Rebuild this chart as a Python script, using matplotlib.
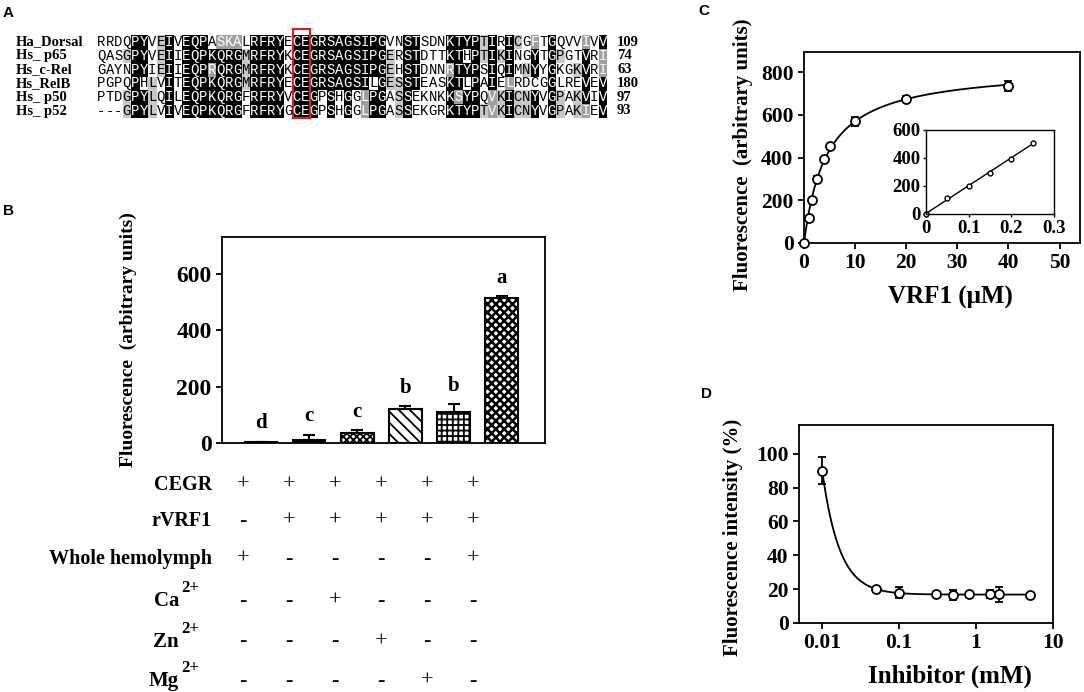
import numpy as np
import matplotlib.pyplot as plt
from matplotlib.patches import Rectangle
from matplotlib.ticker import NullLocator
from collections import Counter

plt.rcParams['font.family'] = ['Liberation Serif', 'DejaVu Serif']
plt.rcParams['font.weight'] = 'bold'
plt.rcParams['axes.linewidth'] = 1.3
plt.rcParams['hatch.linewidth'] = 1.3

W, H = 1084, 692

# ---- panel A: alignment
seq_names = ['Ha_Dorsal', 'Hs_ p65', 'Hs_c-Rel', 'Hs_RelB', 'Hs_ p50', 'Hs_ p52']
seqs = ['RRDQPYVEIVEQPASKALRFRYECEGRSAGSIPGVNSTSDNKTYPTIRICGFTGQVVIVV',
        'QASGPYVEIIEQPKQRGMRFRYKCEGRSAGSIPGERSTDTTKTHPTIKINGYTGPGTVRI',
        'GAYNPYIEIIEQPRQRGMRFRYKCEGRSAGSIPGEHSTDNNRTYPSIQIMNYYGKGKVRI',
        'PGPQPHLVITEQPKQRGMRFRYECEGRSAGSILGESSTEASKTLPAIELRDCGGLREVEV',
        'PTDGPYLQILEQPKQRGFRFRYVCEGPSHGGLPGASSEKNKKSYPQVKICNYVGPAKVIV',
        '---GPYLVIVEQPKQRGFRFRYGCEGPSHGGLPGASSEKGRKTYPTVKICNYVGPAKIEV']
seq_ends = [109, 74, 63, 180, 97, 93]
box_cols = (23, 24)

# ---- panel B
bar_vals = [5, 10, 35, 120, 110, 515]
bar_err = [0, 20, 10, 10, 28, 5]
bar_letters = ['d', 'c', 'c', 'b', 'b', 'a']
bar_hatch = [None, None, 'xxxxx', '\\\\\\', '+++', 'xxxx']
bar_face = ['black', 'black', 'white', 'white', 'white', 'white']
cond_labels = ['CEGR', 'rVRF1', 'Whole hemolymph', 'Ca', 'Zn', 'Mg']
cond_sup = ['', '', '', '2+', '2+', '2+']
cond_marks = ['++++++', '-+++++', '+----+', '--+---', '---+--', '----+-']

# ---- panel C
c_x = [0, 1, 1.5, 2.5, 4, 5, 10, 20, 40]
c_y = [0, 115, 200, 300, 395, 455, 570, 675, 735]
c_err = [0, 5, 10, 15, 5, 5, 20, 15, 25]
ins_x = [0, 0.05, 0.1, 0.15, 0.2, 0.25]
ins_y = [0, 115, 200, 295, 395, 510]

# ---- panel D
d_x = [0.01, 0.05, 0.1, 0.3, 0.5, 0.8, 1.5, 2, 5]
d_y = [90, 20, 18, 17, 16.5, 17, 17, 17, 16.5]
d_err = [8, 1.5, 3.5, 1, 3, 0.5, 2.5, 4.5, 1]

fig = plt.figure(figsize=(W / 100, H / 100), dpi=100)

# overlay axes in pixel coordinates
ov = fig.add_axes([0, 0, 1, 1])
ov.set_xlim(0, W)
ov.set_ylim(H, 0)
ov.axis('off')

sans = ['Liberation Sans', 'DejaVu Sans']
for lab, (lx, ly) in zip('ABCD', [(8, 13), (8, 211), (704, 11), (706, 394)]):
    ov.text(lx, ly, lab, family=sans, fontsize=11, weight='bold', ha='center', va='center')

groups = ['ILVM', 'FYW', 'KRH', 'DE', 'STNQ', 'AG', 'P', 'C']
def grp(c):
    for g in groups:
        if c in g:
            return g
    return c

x0, cw, y0, rh = 97, 8.5, 42, 13.8
for j in range(len(seqs[0])):
    col = [s[j] for s in seqs]
    m, n = Counter([c for c in col if c != '-']).most_common(1)[0]
    for i, c in enumerate(col):
        if c == '-':
            fc, tc = 'white', 'black'
        elif c == m and n >= 4:
            fc, tc = 'black', 'white'
        elif c == m and n == 3:
            fc, tc = '#c8c8c8', 'black'
        elif n >= 4 and grp(c) == grp(m):
            fc, tc = '#a0a0a0', 'white'
        else:
            fc, tc = 'white', 'black'
        cx = x0 + j * cw
        cy = y0 + i * rh
        if fc != 'white':
            ov.add_patch(Rectangle((cx, cy - rh / 2), cw, rh, fc=fc, ec='none'))
        ov.text(cx + cw / 2, cy, c, family=['Liberation Mono', 'DejaVu Sans Mono'],
                weight='normal', fontsize=10, color=tc, ha='center', va='center')

for i, (nm, e) in enumerate(zip(seq_names, seq_ends)):
    ov.text(16, y0 + i * rh, nm, fontsize=10.5, ha='left', va='center')
    ov.text(617, y0 + i * rh, str(e), fontsize=10.5, ha='left', va='center')

ov.add_patch(Rectangle((x0 + box_cols[0] * cw, 29), cw * len(box_cols), 89,
                       fill=False, ec='#e0191e', lw=1.5))

# ---- panel B
axB = fig.add_axes([222 / W, 1 - 443 / H, 323 / W, 206 / H])
bx = np.arange(len(bar_vals))
bars = axB.bar(bx, bar_vals, width=0.68, color=bar_face, edgecolor='black', lw=1.5)
for b, h in zip(bars, bar_hatch):
    if h:
        b.set_hatch(h)
try:
    bars[-1].set_hatch_linewidth(1.8)
except AttributeError:
    pass
axB.errorbar(bx, bar_vals, yerr=[np.zeros(len(bar_err)), bar_err], fmt='none',
             ecolor='black', capsize=4, elinewidth=1.5, capthick=1.5)
for xi, v, e, t in zip(bx, bar_vals, bar_err, bar_letters):
    axB.annotate(t, (xi, v + e), xytext=(0, 6), textcoords='offset points',
                 ha='center', va='bottom', fontsize=15)
axB.set_xlim(-0.81, 5.9)
axB.set_ylim(0, 730)
axB.set_yticks([0, 200, 400, 600])
axB.set_xticks([])
axB.tick_params(axis='y', labelsize=17, length=4, width=1.3)
ov.text(128, 340, 'Fluorescence  (arbitrary units)', rotation=90, fontsize=14,
        ha='center', va='center')

row_y = [485, 521, 559, 601, 642, 681]
for lab, sup, marks, ry in zip(cond_labels, cond_sup, cond_marks, row_y):
    if sup:
        ov.text(179, ry, lab, fontsize=15, ha='right', va='center')
        ov.text(181, ry - 13, sup, fontsize=12, ha='left', va='center')
    else:
        ov.text(212, ry, lab, fontsize=14.5, ha='right', va='center')
    for k, mk in enumerate(marks):
        ov.text(243 + k * 46, ry, mk, fontsize=16, weight='normal', ha='center', va='center')

# ---- panel C
axC = fig.add_axes([804 / W, 1 - 243 / H, 276 / W, 191 / H])
cx_arr = np.array(c_x, float)
cy_arr = np.array(c_y, float)
best = None
for kd in np.linspace(0.5, 20, 400):
    f = cx_arr / (kd + cx_arr)
    bm = np.sum(f * cy_arr) / np.sum(f * f)
    sse = np.sum((bm * f - cy_arr) ** 2)
    if best is None or sse < best[0]:
        best = (sse, kd, bm)
_, kd, bm = best
xs = np.linspace(0, max(c_x), 300)
axC.plot(xs, bm * xs / (kd + xs), color='black', lw=1.3)
axC.errorbar(c_x, c_y, yerr=c_err, fmt='o', mfc='white', mec='black', ms=6.5,
             mew=1.3, ecolor='black', elinewidth=1.3, capsize=3, capthick=1.3,
             clip_on=False, zorder=3)
axC.set_xlim(0, 54)
axC.set_ylim(0, 895)
axC.set_xticks([0, 10, 20, 30, 40, 50])
axC.set_yticks([0, 200, 400, 600, 800])
axC.tick_params(labelsize=15.5, length=4, width=1.3)
ov.text(743, 155, 'Fluorescence  (arbitrary units)', rotation=90, fontsize=15,
        ha='center', va='center')
ov.text(950, 297, 'VRF1 (\u03bcM)', fontsize=18, ha='center', va='center')

axI = fig.add_axes([926 / W, 1 - 214 / H, 128 / W, 84 / H])
p = np.polyfit(ins_x, ins_y, 1)
xl = np.array([ins_x[0], ins_x[-1]])
axI.plot(xl, np.polyval(p, xl), color='black', lw=1.0)
axI.plot(ins_x, ins_y, 'o', mfc='white', mec='black', ms=3.5, mew=1.0, clip_on=False)
axI.set_xlim(0, 0.3)
axI.set_ylim(0, 600)
axI.set_xticks([0, 0.1, 0.2, 0.3])
axI.set_xticklabels(['0', '0.1', '0.2', '0.3'])
axI.set_yticks([0, 200, 400, 600])
axI.tick_params(labelsize=13.5, length=2, width=1.0, pad=2)
for s in axI.spines.values():
    s.set_linewidth(1.0)

# ---- panel D
axD = fig.add_axes([799 / W, 1 - 623 / H, 254 / W, 198 / H])
dx_arr = np.array(d_x, float)
dy_arr = np.array(d_y, float)
best = None
for nn in np.linspace(0.5, 3, 101):
    f = dx_arr ** (-nn)
    for cc in np.linspace(10, 18, 81):
        a = np.sum(f * (dy_arr - cc)) / np.sum(f * f)
        sse = np.sum((cc + a * f - dy_arr) ** 2)
        if best is None or sse < best[0]:
            best = (sse, nn, cc, a)
_, nn, cc, a = best
xs = np.logspace(np.log10(min(d_x)), np.log10(max(d_x)), 300)
axD.plot(xs, cc + a * xs ** (-nn), color='black', lw=1.3)
axD.errorbar(d_x, d_y, yerr=d_err, fmt='o', mfc='white', mec='black', ms=6.5,
             mew=1.3, ecolor='black', elinewidth=1.3, capsize=3, capthick=1.3, zorder=3)
axD.set_xscale('log')
axD.set_xlim(0.005, 10)
axD.set_ylim(0, 117)
axD.set_xticks([0.01, 0.1, 1, 10])
axD.set_xticklabels(['0.01', '0.1', '1', '10'])
axD.xaxis.set_minor_locator(NullLocator())
axD.set_yticks([0, 20, 40, 60, 80, 100])
axD.tick_params(labelsize=15.5, length=4, width=1.3)
ov.text(733, 537, 'Fluorescence intensity (%)', rotation=90, fontsize=15,
        ha='center', va='center')
ov.text(950, 676, 'Inhibitor (mM)', fontsize=18, ha='center', va='center')

fig.savefig('out.png', dpi=100)
